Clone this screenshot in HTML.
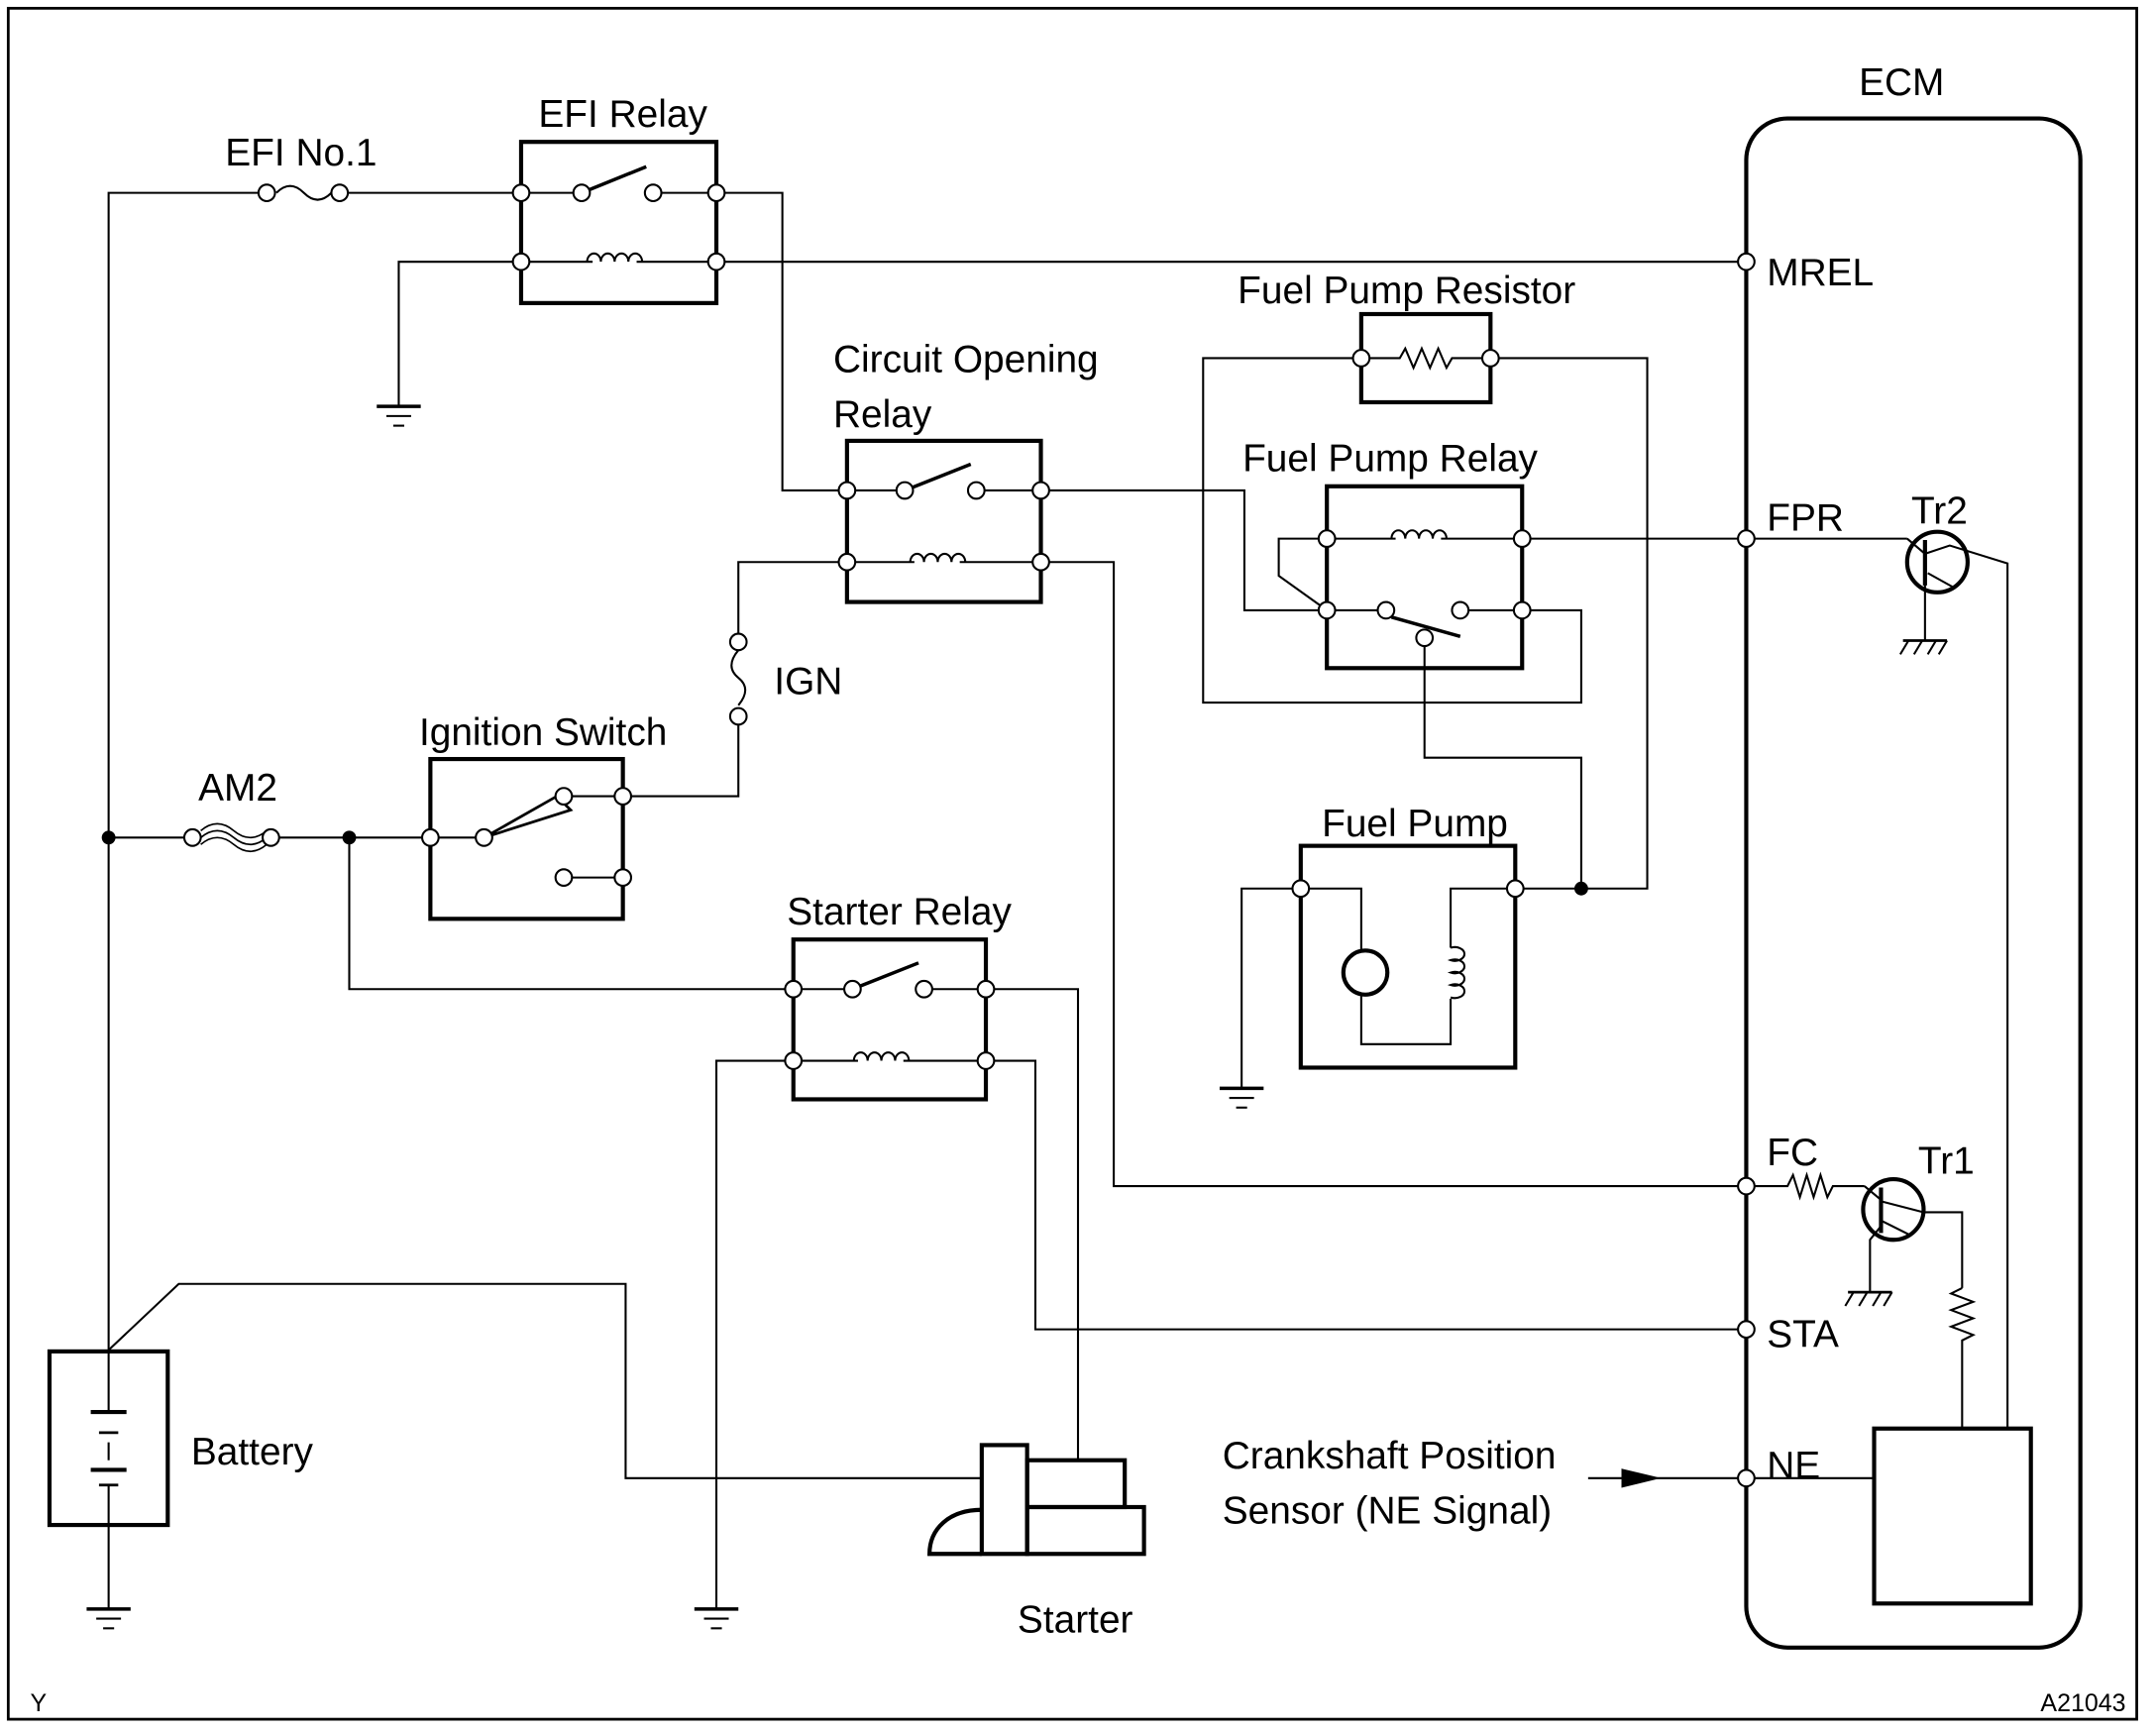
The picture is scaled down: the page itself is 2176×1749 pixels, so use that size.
<!DOCTYPE html>
<html><head><meta charset="utf-8"><style>
html,body{margin:0;padding:0;background:#fff;}
svg{display:block;}
text{font-family:"Liberation Sans",Arial,sans-serif;font-size:28px;fill:#000;}
</style></head><body>
<svg width="2176" height="1749" viewBox="0 0 1568 1258" preserveAspectRatio="none" xmlns="http://www.w3.org/2000/svg">
<defs>
<g id="gnd"><line x1="-16" y1="0" x2="16" y2="0" stroke="#000" stroke-width="2.5"/><line x1="-9" y1="7" x2="9" y2="7" stroke="#000" stroke-width="1.5"/><line x1="-4" y1="14" x2="4" y2="14" stroke="#000" stroke-width="1.5"/></g>
<g id="cgnd"><line x1="-16" y1="0" x2="16" y2="0" stroke="#000" stroke-width="2"/><line x1="-12" y1="0" x2="-18" y2="10" stroke="#000" stroke-width="1.5"/><line x1="-2" y1="0" x2="-8" y2="10" stroke="#000" stroke-width="1.5"/><line x1="8" y1="0" x2="2" y2="10" stroke="#000" stroke-width="1.5"/><line x1="16" y1="0" x2="10" y2="10" stroke="#000" stroke-width="1.5"/></g>
<g id="coil"><path d="M-16,0 a5,6 0 1,1 10,0 a5,6 0 1,1 10,0 a5,6 0 1,1 10,0 a5,6 0 1,1 10,0" fill="none" stroke="#000" stroke-width="1.5" transform="translate(-4,0)"/></g>
</defs>
<g fill="none" stroke="#000" stroke-width="1.5">
<rect x="6" y="6" width="1548" height="1242" stroke-width="2"/>
<rect x="1270" y="86" width="243" height="1110" rx="30" stroke-width="3"/>
<polyline points="79,980 79,140 194,140"/>
<line x1="79" y1="1107" x2="79" y2="1168"/>
<path d="M201,140 q10,-10 20,0 q10,10 20,0"/>
<line x1="247" y1="140" x2="379" y2="140"/>
<rect x="379" y="103" width="142" height="117" stroke-width="3"/>
<line x1="379" y1="140" x2="423" y2="140"/><line x1="423" y1="140" x2="470" y2="121" stroke-width="2.5"/><line x1="475" y1="140" x2="521" y2="140"/>
<line x1="379" y1="190" x2="431" y2="190"/><use href="#coil" x="447" y="190"/><line x1="463" y1="190" x2="521" y2="190"/>
<polyline points="379,190 290,190 290,295"/>
<line x1="521" y1="190" x2="1270" y2="190"/>
<polyline points="521,140 569,140 569,356 616,356"/>
<rect x="616" y="320" width="141" height="117" stroke-width="3"/>
<line x1="616" y1="356" x2="658" y2="356"/><line x1="658" y1="356" x2="706" y2="337" stroke-width="2.5"/><line x1="710" y1="356" x2="757" y2="356"/>
<line x1="616" y1="408" x2="665" y2="408"/><use href="#coil" x="682" y="408"/><line x1="698" y1="408" x2="757" y2="408"/>
<polyline points="757,356 905,356 905,443 965,443"/>
<polyline points="757,408 810,408 810,861 1270,861"/>
<polyline points="616,408 537,408 537,466"/>
<path d="M537,472 q-10,12 0,20 q10,8 0,20"/>
<polyline points="537,520 537,578 453,578"/>
<rect x="990" y="228" width="94" height="64" stroke-width="3"/>
<path d="M990,260 L1018,260 l4,-7 l6,14 l6,-14 l6,14 l6,-14 l6,14 l4,-7 L1084,260"/>
<polyline points="990,260 875,260 875,510 1150,510 1150,443 1107,443"/>
<polyline points="1084,260 1198,260 1198,645 1102,645"/>
<rect x="965" y="353" width="142" height="132" stroke-width="3"/>
<line x1="965" y1="391" x2="1015" y2="391"/><use href="#coil" x="1032" y="391"/><line x1="1048" y1="391" x2="1107" y2="391"/>
<polyline points="965,391 930,391 930,418 965,443"/>
<line x1="965" y1="443" x2="1008" y2="443"/><line x1="1062" y1="443" x2="1107" y2="443"/>
<line x1="1012" y1="448" x2="1062" y2="462" stroke-width="2.5"/>
<polyline points="1036,468 1036,550 1150,550 1150,645"/>
<line x1="1107" y1="391" x2="1270" y2="391"/>
<line x1="1270" y1="391" x2="1387" y2="391"/>
<rect x="946" y="614" width="156" height="161" stroke-width="3"/>
<polyline points="946,645 903,645 903,790"/>
<polyline points="946,645 990,645 990,690"/>
<polyline points="990,722 990,758 1055,758 1055,725"/>
<polyline points="1102,645 1055,645 1055,688"/>
<circle cx="993" cy="706" r="16" stroke-width="3"/>
<path d="M1055,688 a7,5 0 1,1 0,9 a7,5 0 1,1 0,9 a7,5 0 1,1 0,9 a7,5 0 1,1 0,9" />
<line x1="79" y1="608" x2="140" y2="608"/>
<path d="M146,603 q12,-10 24,0 q12,10 24,0 M146,613 q12,-10 24,0 q12,10 24,0 M146,608 q12,-10 24,0 q12,10 24,0" stroke-width="1.2"/>
<line x1="197" y1="608" x2="313" y2="608"/>
<polyline points="254,608 254,718 577,718"/>
<rect x="313" y="551" width="140" height="116" stroke-width="3"/>
<line x1="313" y1="608" x2="352" y2="608"/>
<path d="M352,608 L405,578 L415,588 Z" stroke-width="2"/>
<line x1="410" y1="578" x2="453" y2="578"/>
<line x1="410" y1="637" x2="453" y2="637"/>
<rect x="577" y="682" width="140" height="116" stroke-width="3"/>
<line x1="577" y1="718" x2="620" y2="718"/><line x1="620" y1="718" x2="668" y2="699" stroke-width="2.5"/><line x1="672" y1="718" x2="717" y2="718"/>
<line x1="577" y1="770" x2="624" y2="770"/><use href="#coil" x="641" y="770"/><line x1="657" y1="770" x2="717" y2="770"/>
<polyline points="717,718 784,718 784,1060"/>
<polyline points="717,770 753,770 753,965 1270,965"/>
<polyline points="577,770 521,770 521,1168"/>
<rect x="36" y="981" width="86" height="126" stroke-width="3"/>
<line x1="66" y1="1025" x2="92" y2="1025" stroke-width="3"/><line x1="72" y1="1040" x2="86" y2="1040" stroke-width="2"/>
<line x1="79" y1="1047" x2="79" y2="1060" stroke-width="1.5"/>
<line x1="66" y1="1067" x2="92" y2="1067" stroke-width="3"/><line x1="72" y1="1078" x2="86" y2="1078" stroke-width="2"/>
<line x1="79" y1="981" x2="79" y2="1025" /><line x1="79" y1="1078" x2="79" y2="1107"/>
<polyline points="79,980 130,932 455,932 455,1073 714,1073"/>
<rect x="714" y="1049" width="33" height="79" stroke-width="3"/>
<rect x="747" y="1060" width="71" height="34" stroke-width="3"/>
<rect x="747" y="1094" width="85" height="34" stroke-width="3"/>
<path d="M714,1096 C690,1096 676,1110 676,1128 L714,1128" stroke-width="3"/>
<line x1="1155" y1="1073" x2="1270" y2="1073"/>
<path d="M1180,1067 L1205,1073 L1180,1079 Z" fill="#000"/>
<line x1="1270" y1="1073" x2="1363" y2="1073"/>
<rect x="1363" y="1037" width="114" height="127" stroke-width="3"/>
<path d="M1270,861 L1300,861 l4,-8 l5,16 l5,-16 l5,16 l5,-16 l5,16 l4,-8 L1356,861"/>
<circle cx="1377" cy="878" r="22" stroke-width="3"/>
<line x1="1368" y1="862" x2="1368" y2="895" stroke-width="3"/>
<line x1="1356" y1="861" x2="1368" y2="871"/>
<polyline points="1368,886 1390,897"/><polyline points="1368,872 1399,880 1427,880 1427,935"/>
<path d="M1427,935 l-8,4 l16,6 l-16,6 l16,6 l-16,6 l16,6 l-8,4 L1427,1037"/>
<polyline points="1368,890 1360,900 1360,938"/>
<circle cx="1409" cy="408" r="22" stroke-width="3"/>
<line x1="1400" y1="392" x2="1400" y2="425" stroke-width="3"/>
<line x1="1387" y1="391" x2="1400" y2="402"/>
<polyline points="1400,402 1418,396 1460,409 1460,1037"/>
<polyline points="1400,418 1400,465"/>
<line x1="1402" y1="416" x2="1420" y2="426"/>
</g>
<use href="#gnd" x="290" y="295"/>
<use href="#gnd" x="903" y="790"/>
<use href="#gnd" x="79" y="1168"/>
<use href="#gnd" x="521" y="1168"/>
<use href="#cgnd" x="1400" y="465"/>
<use href="#cgnd" x="1360" y="938"/>
<g fill="#fff" stroke="#000" stroke-width="1.5">
<circle cx="194" cy="140" r="6"/><circle cx="247" cy="140" r="6"/>
<circle cx="379" cy="140" r="6"/><circle cx="423" cy="140" r="6"/><circle cx="475" cy="140" r="6"/><circle cx="521" cy="140" r="6"/>
<circle cx="379" cy="190" r="6"/><circle cx="521" cy="190" r="6"/>
<circle cx="616" cy="356" r="6"/><circle cx="658" cy="356" r="6"/><circle cx="710" cy="356" r="6"/><circle cx="757" cy="356" r="6"/>
<circle cx="616" cy="408" r="6"/><circle cx="757" cy="408" r="6"/>
<circle cx="537" cy="466" r="6"/><circle cx="537" cy="520" r="6"/>
<circle cx="990" cy="260" r="6"/><circle cx="1084" cy="260" r="6"/>
<circle cx="965" cy="391" r="6"/><circle cx="1107" cy="391" r="6"/>
<circle cx="965" cy="443" r="6"/><circle cx="1008" cy="443" r="6"/><circle cx="1062" cy="443" r="6"/><circle cx="1107" cy="443" r="6"/><circle cx="1036" cy="463" r="6"/>
<circle cx="946" cy="645" r="6"/><circle cx="1102" cy="645" r="6"/>
<circle cx="140" cy="608" r="6"/><circle cx="197" cy="608" r="6"/>
<circle cx="313" cy="608" r="6"/><circle cx="352" cy="608" r="6"/><circle cx="410" cy="578" r="6"/><circle cx="453" cy="578" r="6"/><circle cx="410" cy="637" r="6"/><circle cx="453" cy="637" r="6"/>
<circle cx="577" cy="718" r="6"/><circle cx="620" cy="718" r="6"/><circle cx="672" cy="718" r="6"/><circle cx="717" cy="718" r="6"/>
<circle cx="577" cy="770" r="6"/><circle cx="717" cy="770" r="6"/>
<circle cx="1270" cy="190" r="6"/><circle cx="1270" cy="391" r="6"/><circle cx="1270" cy="861" r="6"/><circle cx="1270" cy="965" r="6"/><circle cx="1270" cy="1073" r="6"/>
</g>
<g fill="#000"><circle cx="79" cy="608" r="5"/><circle cx="254" cy="608" r="5"/><circle cx="1150" cy="645" r="5"/></g>
<text x="1383" y="69" text-anchor="middle">ECM</text>
<text x="219" y="120" text-anchor="middle">EFI No.1</text>
<text x="453" y="92" text-anchor="middle">EFI Relay</text>
<text x="1285" y="207">MREL</text>
<text x="1023" y="220" text-anchor="middle">Fuel Pump Resistor</text>
<text x="606" y="270">Circuit Opening</text>
<text x="606" y="310">Relay</text>
<text x="1011" y="342" text-anchor="middle">Fuel Pump Relay</text>
<text x="1285" y="385">FPR</text>
<text x="1390" y="380">Tr2</text>
<text x="563" y="504">IGN</text>
<text x="395" y="541" text-anchor="middle">Ignition Switch</text>
<text x="173" y="581" text-anchor="middle">AM2</text>
<text x="1029" y="607" text-anchor="middle">Fuel Pump</text>
<text x="654" y="671" text-anchor="middle">Starter Relay</text>
<text x="1285" y="846">FC</text>
<text x="1395" y="852">Tr1</text>
<text x="1285" y="978">STA</text>
<text x="139" y="1063">Battery</text>
<text x="889" y="1066">Crankshaft Position</text>
<text x="889" y="1106">Sensor (NE Signal)</text>
<text x="1285" y="1073">NE</text>
<text x="782" y="1185" text-anchor="middle">Starter</text>
<text x="22" y="1242" style="font-size:18px">Y</text>
<text x="1484" y="1242" style="font-size:18px">A21043</text>
</svg>
</body></html>
